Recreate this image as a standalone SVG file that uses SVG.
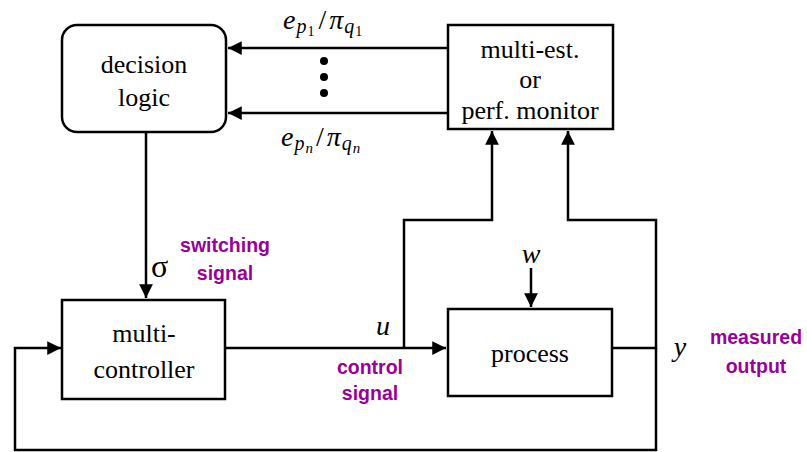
<svg xmlns="http://www.w3.org/2000/svg" width="807" height="452" viewBox="0 0 807 452">
<style>
.box{fill:#fff;stroke:#000;stroke-width:2.5}
.ln{fill:none;stroke:#000;stroke-width:2.5}
.t{font-family:'Liberation Serif','Times New Roman',serif;font-size:26px;text-anchor:middle;fill:#000}
.m{font-family:'Liberation Serif','Times New Roman',serif;font-style:italic;fill:#000}
.p{font-family:'Liberation Sans',Arial,sans-serif;font-weight:bold;font-size:19.5px;fill:#990099;text-anchor:middle}
</style>
<defs>
<marker id="ah" viewBox="0 0 10 10" refX="10" refY="5" markerWidth="5.5" markerHeight="5.5" orient="auto" markerUnits="strokeWidth"><path d="M0,0L10,5L0,10z" fill="#000"/></marker>
</defs>
<g id="connectors">
<line class="ln" x1="448" y1="48" x2="228" y2="48" marker-end="url(#ah)"/>
<line class="ln" x1="448" y1="113" x2="228" y2="113" marker-end="url(#ah)"/>
<line class="ln" x1="146" y1="132" x2="146" y2="298" marker-end="url(#ah)"/>
<line class="ln" x1="225" y1="348" x2="446" y2="348" marker-end="url(#ah)"/>
<polyline class="ln" points="404,348 404,220 492,220 492,131" marker-end="url(#ah)"/>
<polyline class="ln" points="612,348 656,348 656,220 568,220 568,131" marker-end="url(#ah)"/>
<polyline class="ln" points="656,348 656,450 15,450 15,348 61,348" marker-end="url(#ah)"/>
<line class="ln" x1="531" y1="268" x2="531" y2="307" marker-end="url(#ah)"/>
<circle cx="324" cy="61" r="4"/>
<circle cx="324" cy="77" r="4"/>
<circle cx="324" cy="93" r="4"/>
</g>
<g id="decision-logic">
<rect class="box" x="62" y="25" width="164" height="107" rx="15"/>
<text class="t" x="144" y="73">decision</text>
<text class="t" x="144" y="106">logic</text>
</g>
<g id="monitor">
<rect class="box" x="448" y="25" width="165" height="104"/>
<text class="t" x="530" y="58">multi-est.</text>
<text class="t" x="530" y="88">or</text>
<text class="t" x="530" y="119">perf. monitor</text>
</g>
<g id="multi-controller">
<rect class="box" x="62" y="300" width="163" height="99"/>
<text class="t" x="144" y="342">multi-</text>
<text class="t" x="144" y="378">controller</text>
</g>
<g id="process">
<rect class="box" x="448" y="309" width="164" height="87"/>
<text class="t" x="530" y="362">process</text>
</g>
<g id="labels">
<text class="m" x="283" y="29" font-size="28">e<tspan font-size="20" dy="4" dx="1">p</tspan><tspan font-size="14" font-style="normal" dy="3" dx="1">1</tspan><tspan font-size="28" font-style="normal" dy="-7" dx="4">/</tspan><tspan font-size="28" dx="3">π</tspan><tspan font-size="20" dy="4" dx="1">q</tspan><tspan font-size="14" font-style="normal" dy="3" dx="1">1</tspan></text>
<text class="m" x="281" y="146" font-size="28">e<tspan font-size="20" dy="4" dx="1">p</tspan><tspan font-size="15" dy="3" dx="1">n</tspan><tspan font-size="28" font-style="normal" dy="-7" dx="3">/</tspan><tspan font-size="28" dx="3">π</tspan><tspan font-size="20" dy="4" dx="1">q</tspan><tspan font-size="15" dy="3" dx="1">n</tspan></text>
<text x="151" y="277" font-family="'Liberation Serif', serif" font-size="32">σ</text>
<text class="p" x="225" y="252">switching</text>
<text class="p" x="225" y="280">signal</text>
<text class="m" x="383" y="335" font-size="28" text-anchor="middle">u</text>
<text class="p" x="370" y="374">control</text>
<text class="p" x="370" y="400">signal</text>
<text class="m" x="531" y="263" font-size="28" text-anchor="middle">w</text>
<text class="m" x="680" y="356" font-size="28" text-anchor="middle">y</text>
<text class="p" x="756" y="344">measured</text>
<text class="p" x="756" y="373">output</text>
</g>
</svg>
